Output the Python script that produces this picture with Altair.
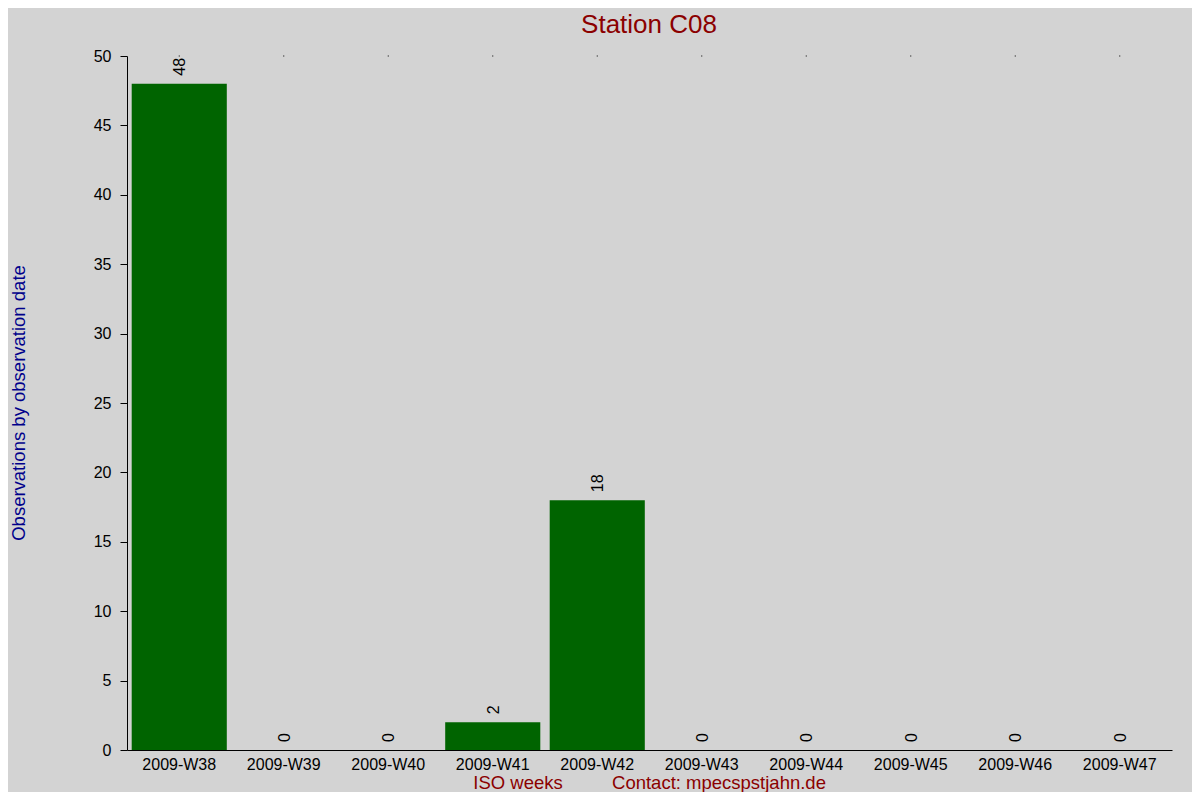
import altair as alt
import pandas as pd

weeks = ["2009-W38", "2009-W39", "2009-W40", "2009-W41", "2009-W42",
         "2009-W43", "2009-W44", "2009-W45", "2009-W46", "2009-W47"]
counts = [48, 0, 0, 2, 18, 0, 0, 0, 0, 0]
y_ticks = [0, 5, 10, 15, 20, 25, 30, 35, 40, 45, 50]

df = pd.DataFrame({"week": weeks, "count": counts, "top": [50] * len(weeks)})

FONT = "Liberation Sans"

xs = alt.X("week:N", sort=weeks,
           scale=alt.Scale(paddingInner=0.09, paddingOuter=0.045),
           axis=alt.Axis(title=None, labelAngle=0, labelFontSize=16, labelFont=FONT,
                         labelColor="black", ticks=False, domainColor="black",
                         labelPadding=6))
ys = alt.Y("count:Q", scale=alt.Scale(domain=[0, 50], nice=False),
           axis=alt.Axis(title=None, values=y_ticks, labelFontSize=16, labelFont=FONT,
                         labelColor="black", tickColor="black", domainColor="black",
                         tickSize=7, labelPadding=9, grid=False))

base = alt.Chart(df)

bars = base.mark_bar(color="#006400").encode(x=xs, y=ys)

labels = base.mark_text(angle=270, align="left", baseline="middle", dx=8, dy=1,
                        fontSize=16, font=FONT, color="black").encode(
    x=alt.X("week:N", sort=weeks), y=alt.Y("count:Q"), text="count:Q")

dots = base.mark_square(size=1, color="black", opacity=1).encode(
    x=alt.X("week:N", sort=weeks), y=alt.Y("top:Q"))

title = alt.Chart(pd.DataFrame({"t": ["Station C08"]})).mark_text(
    fontSize=26, font=FONT, color="#8B0000", baseline="middle", align="center").encode(
    text="t:N", x=alt.value(522), y=alt.value(-31))

ytitle = alt.Chart(pd.DataFrame({"t": ["Observations by observation date"]})).mark_text(
    fontSize=18.5, font=FONT, color="#00008B", angle=270, baseline="middle", align="center").encode(
    text="t:N", x=alt.value(-108), y=alt.value(347))

xtitle1 = alt.Chart(pd.DataFrame({"t": ["ISO weeks"]})).mark_text(
    fontSize=18.5, font=FONT, color="#8B0000", baseline="middle", align="center").encode(
    text="t:N", x=alt.value(391), y=alt.value(727))

xtitle2 = alt.Chart(pd.DataFrame({"t": ["Contact: mpecspstjahn.de"]})).mark_text(
    fontSize=18.5, font=FONT, color="#8B0000", baseline="middle", align="center").encode(
    text="t:N", x=alt.value(592), y=alt.value(727))

chart = alt.layer(bars, labels, dots, title, ytitle, xtitle1, xtitle2).properties(
    width=1045, height=694,
    background="#D3D3D3",
    autosize=alt.AutoSizeParams(type="none"),
    padding={"left": 119, "top": 48, "right": 20, "bottom": 42},
).configure_view(stroke=None)

chart.save("out.html", embed_options={"renderer": "svg", "actions": False})
